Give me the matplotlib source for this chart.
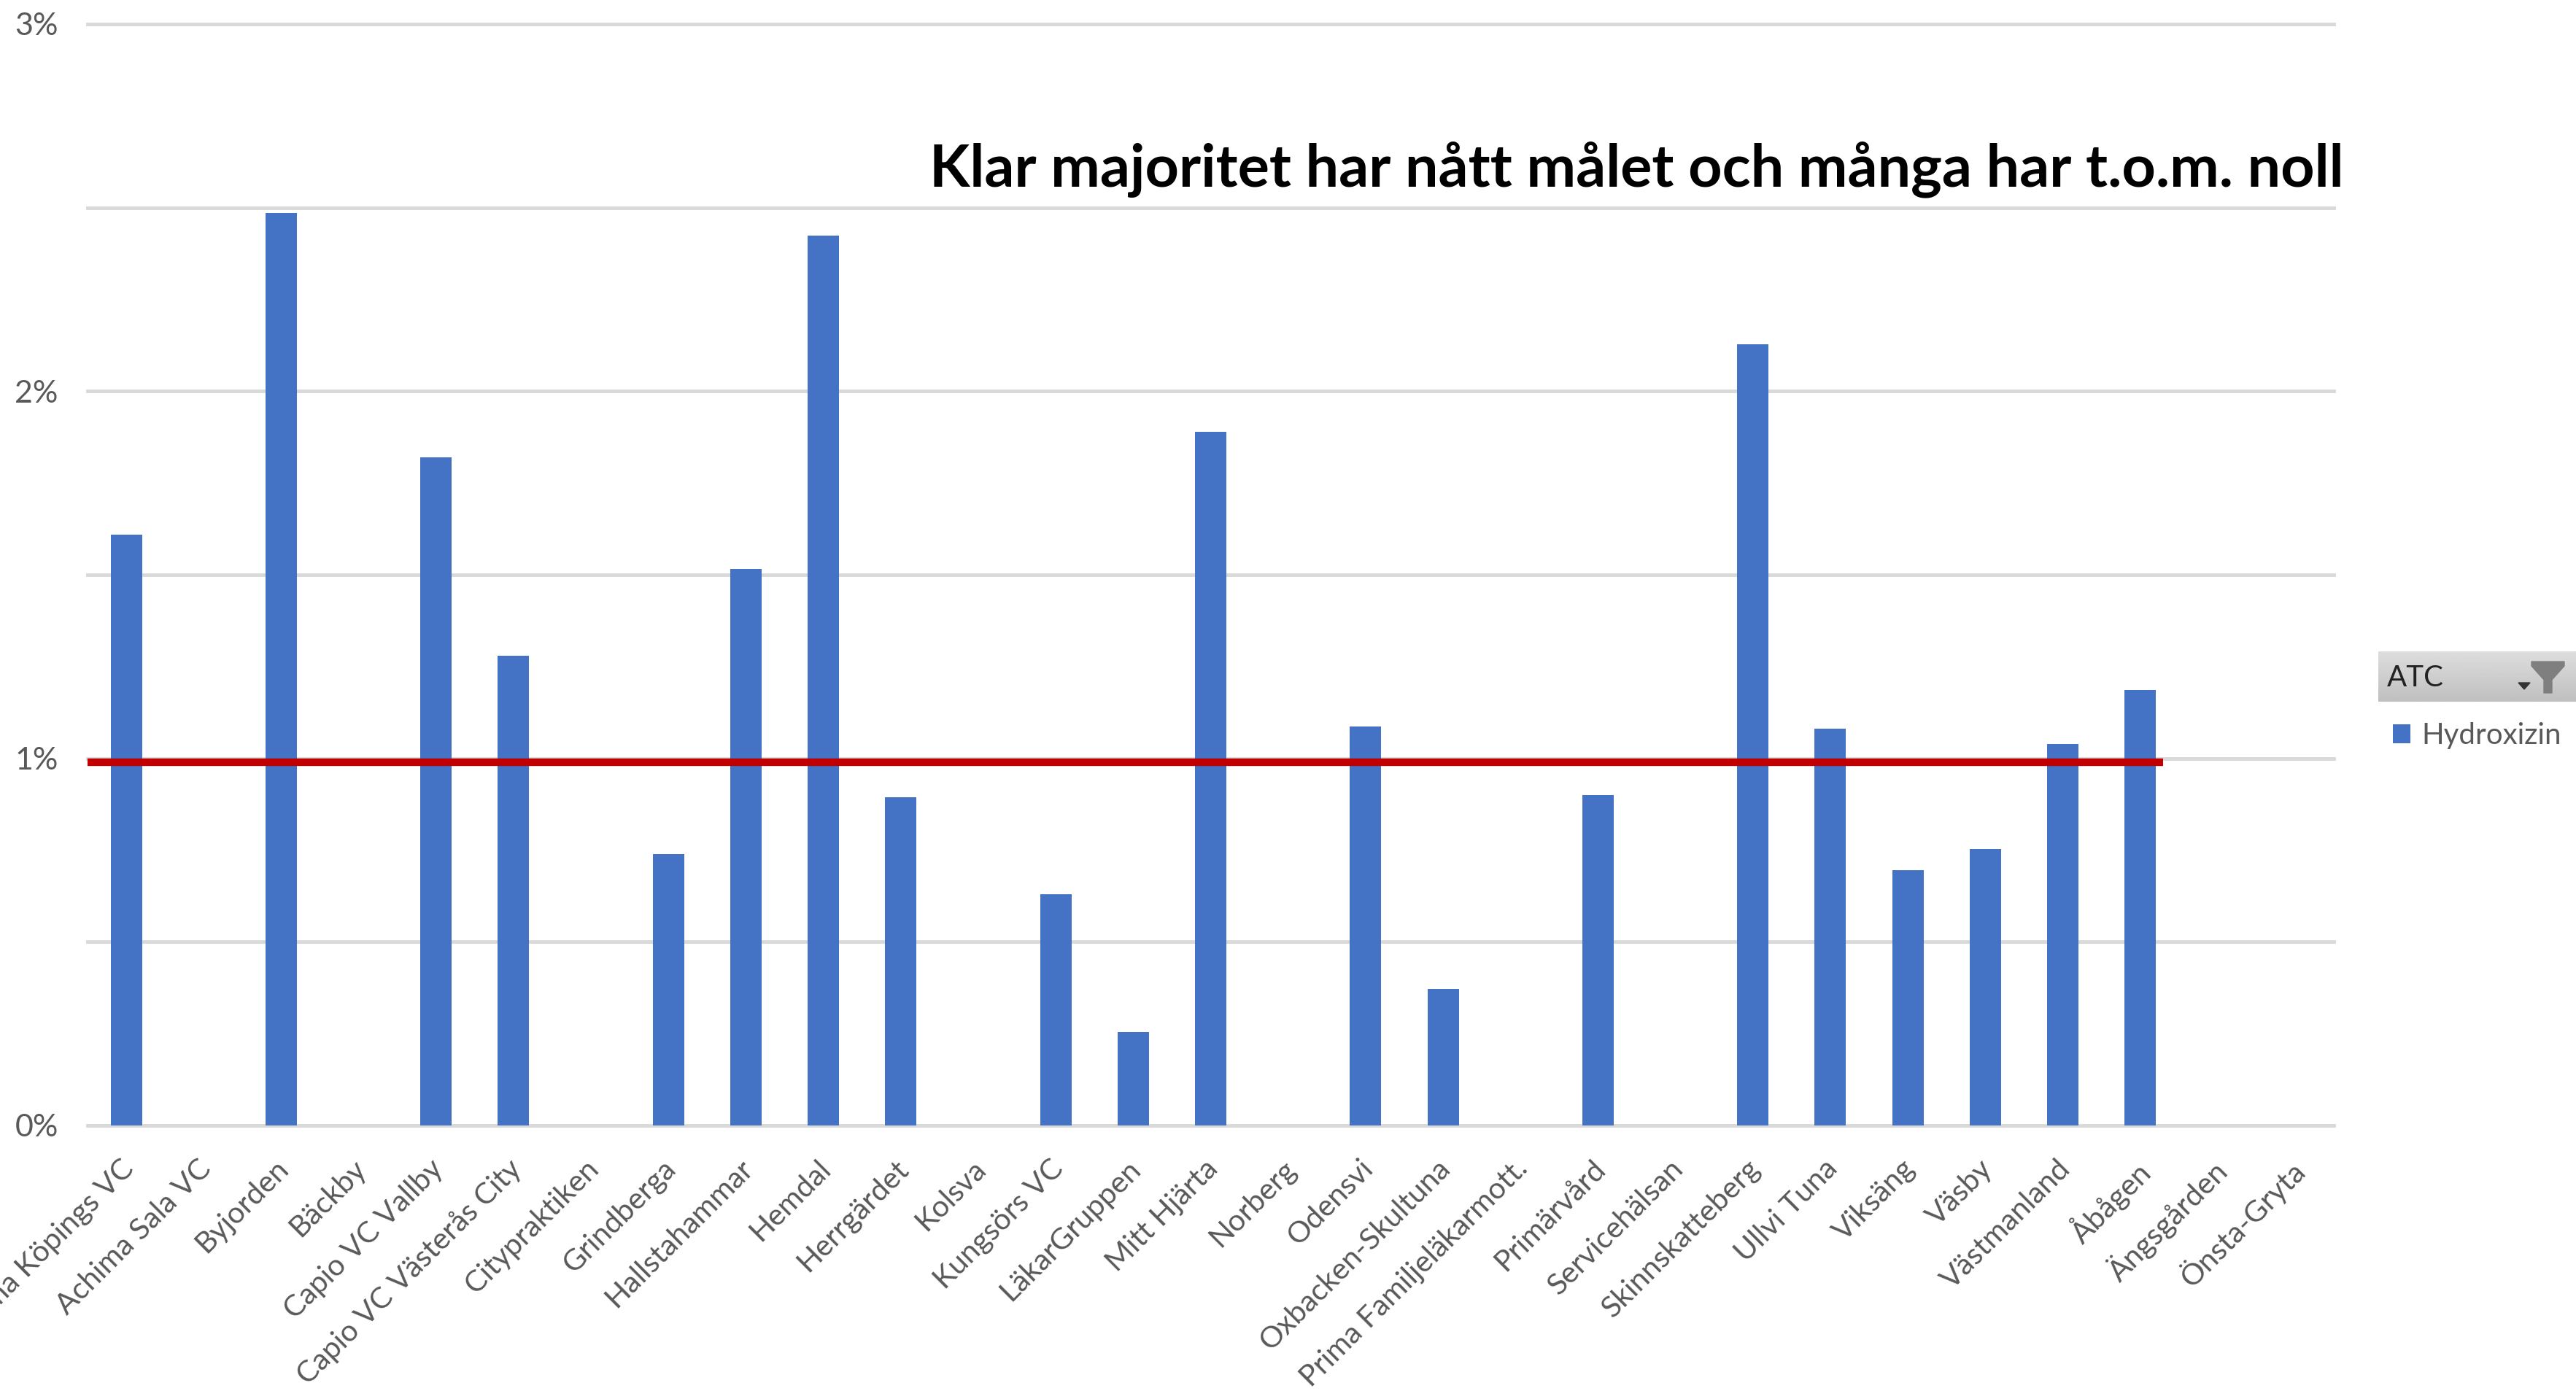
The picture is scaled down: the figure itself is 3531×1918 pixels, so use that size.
import numpy as np
import matplotlib.pyplot as plt
from matplotlib.patches import Polygon
from matplotlib.transforms import ScaledTranslation

plt.rcParams['font.family'] = ['Lato', 'DejaVu Sans']

units = ['Achima Köpings VC', 'Achima Sala VC', 'Byjorden', 'Bäckby', 'Capio VC Vallby',
         'Capio VC Västerås City', 'Citypraktiken', 'Grindberga', 'Hallstahammar', 'Hemdal',
         'Herrgärdet', 'Kolsva', 'Kungsörs VC', 'LäkarGruppen', 'Mitt Hjärta', 'Norberg',
         'Odensvi', 'Oxbacken-Skultuna', 'Prima Familjeläkarmott.', 'Primärvård',
         'Servicehälsan', 'Skinnskatteberg', 'Ullvi Tuna', 'Viksäng', 'Väsby',
         'Västmanland', 'Åbågen', 'Ängsgården', 'Önsta-Gryta']
hydroxizin = [1.61, 0, 2.485, 0, 1.82, 1.28, 0, 0.74, 1.515, 2.423,
              0.895, 0, 0.63, 0.255, 1.89, 0, 1.087, 0.372, 0, 0.90,
              0, 2.127, 1.08, 0.695, 0.752, 1.04, 1.187, 0, 0]
target = 0.99
target_end = 26.3
ticks = [0, 0.5, 1, 1.5, 2, 2.5, 3]
tick_labels = ['0%', '', '1%', '', '2%', '', '3%']
title = 'Klar majoritet har nått målet och många har t.o.m. noll'

W, H = 3531, 1918
GREY = '#595959'

fig = plt.figure(figsize=(W / 100, H / 100), dpi=100)
ax = fig.add_axes([120 / W, 1 - 1543 / H, (3199 - 120) / W, (1543 - 33) / H])

x = np.arange(len(units))
ax.bar(x, hydroxizin, width=0.405, color='#4472C4', zorder=3, label='Hydroxizin')
ax.plot([-0.5, target_end], [target, target], color='#C00000', lw=7.5,
        solid_capstyle='butt', zorder=4)

ax.set_xlim(-0.5, len(units) - 0.5)
ax.set_ylim(0, 3)
ax.set_yticks(ticks)
ax.set_yticklabels(tick_labels, fontsize=31, color=GREY)
ax.set_xticks(x)
ax.set_xticklabels(units, rotation=45, ha='right', va='top', rotation_mode='anchor',
                   fontsize=29.4, color=GREY)
ax.tick_params(length=0)
ax.tick_params(axis='y', pad=29)
ax.tick_params(axis='x', pad=29)
# nudge the slanted labels left, they sit closer to their bars in the original
shift = ScaledTranslation(-9 / 100, 0, fig.dpi_scale_trans)
for lab in ax.get_xticklabels():
    lab.set_transform(lab.get_transform() + shift)
ax.grid(axis='y', color='#D9D9D9', lw=3.5, zorder=0)
ax.set_axisbelow(True)
for s in ax.spines.values():
    s.set_visible(False)
# the bottom gridline must not be clipped in half at the axes edge
for line in ax.get_ygridlines():
    line.set_clip_on(False)

fig.text(3213 / W, 1 - 232 / H, title, ha='right', va='center', fontsize=58.2,
         fontweight='bold', color='black')

# filter button of the pivot chart, drawn in pixel units from its lower left corner
btn = fig.add_axes([3260 / W, 1 - 962 / H, (W - 3260) / W, 69 / H])
btn.imshow(np.linspace(0.87, 0.75, 50).reshape(-1, 1), cmap='gray', vmin=0, vmax=1,
           aspect='auto', extent=[0, 271, 0, 69])
btn.set_axis_off()
btn.text(12, 33, 'ATC', fontsize=29, color='#222222', va='center', ha='left')
btn.add_patch(Polygon([[192, 26], [208, 26], [200, 17]], color='#333333'))
btn.add_patch(Polygon([[210, 55], [255, 55], [255, 49], [238, 30], [238, 12],
                       [227, 12], [227, 30], [210, 49]], color='#7F7F7F'))

leg = ax.legend(loc='upper left', bbox_to_anchor=(3280 / W, 1 - 990 / H),
                bbox_transform=fig.transFigure, frameon=False, fontsize=29,
                handlelength=0.6, handleheight=0.6, handletextpad=0.38,
                borderpad=0, borderaxespad=0, labelcolor=GREY)

fig.savefig('out.png', dpi=100)
